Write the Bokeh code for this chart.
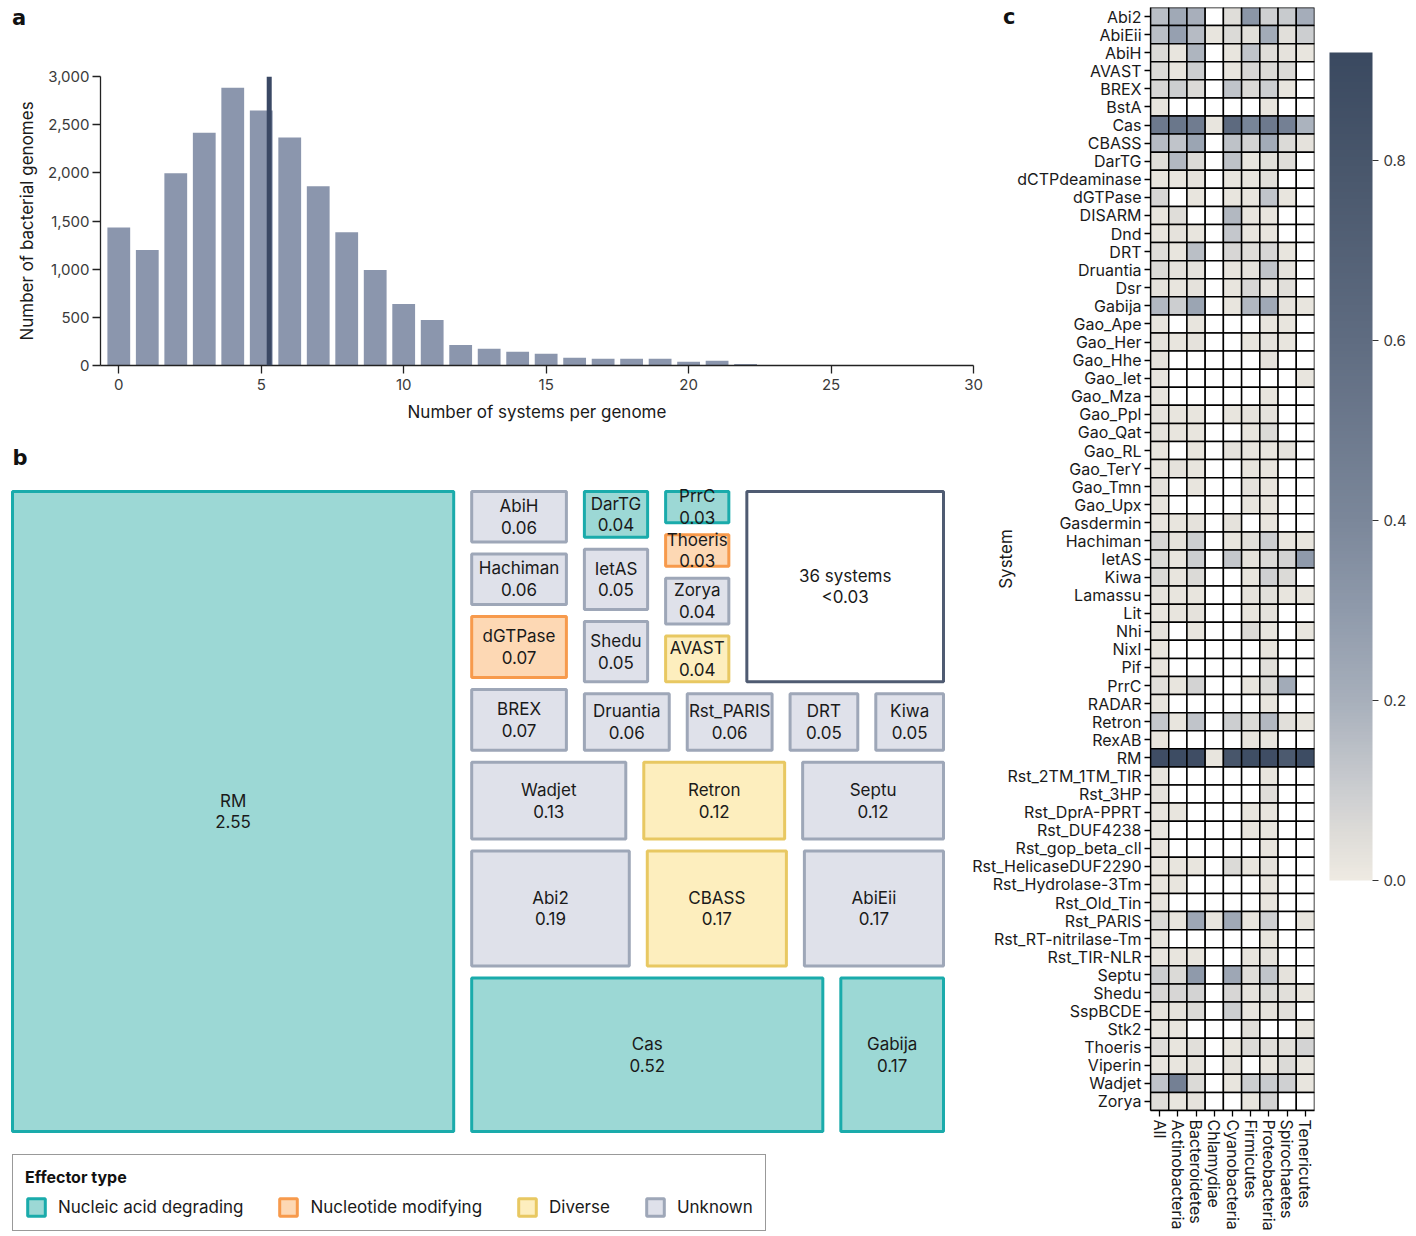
import numpy as np
from bokeh.plotting import figure
from bokeh.models import (ColumnDataSource, Range1d, FactorRange, FixedTicker, NumeralTickFormatter,
                          LinearColorMapper, ColorBar, Label, Legend, LegendItem, Span, Div)
from bokeh.layouts import row, column
from bokeh.core.properties import value
from bokeh.embed import file_html
from bokeh.resources import INLINE

FONT = "Inter"
TXT = "#1a1a1a"
N = float("nan")

# ---------------- panel a data ----------------
hist_systems = list(range(23))
hist_genomes = [1433, 1198, 1996, 2417, 2883, 2648, 2368, 1861, 1384, 991, 639, 473,
                214, 173, 142, 121, 80, 69, 69, 69, 40, 50, 15]
mean_systems = 5.28
hist_xticks = [0, 5, 10, 15, 20, 25, 30]
hist_yticks = [0, 500, 1000, 1500, 2000, 2500, 3000]

# ---------------- panel b data ----------------
tm_names = ["RM", "Cas", "Abi2", "CBASS", "AbiEii", "Gabija", "Wadjet", "Retron", "Septu",
            "dGTPase", "BREX", "AbiH", "Hachiman", "Druantia", "Rst_PARIS", "IetAS", "Shedu",
            "DRT", "Kiwa", "DarTG", "Zorya", "AVAST", "PrrC", "Thoeris", "36 systems"]
tm_values = [2.55, 0.52, 0.19, 0.17, 0.17, 0.17, 0.13, 0.12, 0.12,
             0.07, 0.07, 0.06, 0.06, 0.06, 0.06, 0.05, 0.05,
             0.05, 0.05, 0.04, 0.04, 0.04, 0.03, 0.03, 0.37]
tm_types = ["Nucleic acid degrading", "Nucleic acid degrading", "Unknown", "Diverse", "Unknown",
            "Nucleic acid degrading", "Unknown", "Diverse", "Unknown",
            "Nucleotide modifying", "Unknown", "Unknown", "Unknown", "Unknown", "Unknown",
            "Unknown", "Unknown", "Unknown", "Unknown", "Nucleic acid degrading", "Unknown",
            "Diverse", "Nucleic acid degrading", "Nucleotide modifying", "Other"]
effector_types = ["Nucleic acid degrading", "Nucleotide modifying", "Diverse", "Unknown"]

# nesting of the slice-and-dice treemap (h = side by side, v = stacked)
tm_tree = ("h", ["RM",
                 ("v", [("h", [("v", ["AbiH", "Hachiman", "dGTPase", "BREX"]),
                               ("v", [("h", [("v", ["DarTG", "IetAS", "Shedu"]),
                                             ("v", ["PrrC", "Thoeris", "Zorya", "AVAST"]),
                                             "36 systems"]),
                                      ("h", ["Druantia", "Rst_PARIS", "DRT", "Kiwa"])])]),
                        ("h", ["Wadjet", "Retron", "Septu"]),
                        ("h", ["Abi2", "CBASS", "AbiEii"]),
                        ("h", ["Cas", "Gabija"])])])

# ---------------- panel c data ----------------
systems = ["Abi2", "AbiEii", "AbiH", "AVAST", "BREX", "BstA", "Cas", "CBASS", "DarTG",
           "dCTPdeaminase", "dGTPase", "DISARM", "Dnd", "DRT", "Druantia", "Dsr", "Gabija",
           "Gao_Ape", "Gao_Her", "Gao_Hhe", "Gao_Iet", "Gao_Mza", "Gao_Ppl", "Gao_Qat",
           "Gao_RL", "Gao_TerY", "Gao_Tmn", "Gao_Upx", "Gasdermin", "Hachiman", "IetAS",
           "Kiwa", "Lamassu", "Lit", "Nhi", "NixI", "Pif", "PrrC", "RADAR", "Retron",
           "RexAB", "RM", "Rst_2TM_1TM_TIR", "Rst_3HP", "Rst_DprA-PPRT", "Rst_DUF4238",
           "Rst_gop_beta_cll", "Rst_HelicaseDUF2290", "Rst_Hydrolase-3Tm", "Rst_Old_Tin",
           "Rst_PARIS", "Rst_RT-nitrilase-Tm", "Rst_TIR-NLR", "Septu", "Shedu", "SspBCDE",
           "Stk2", "Thoeris", "Viperin", "Wadjet", "Zorya"]
phyla = ["All", "Actinobacteria", "Bacteroidetes", "Chlamydiae", "Cyanobacteria",
         "Firmicutes", "Proteobacteria", "Spirochaetes", "Tenericutes"]

frac_all = [.15, .15, .06, .06, .07, .02, .50, .16, .05, .02,
            .07, .02, .02, .05, .06, .03, .17, .02, .03, .03,
            .02, .02, .03, .03, .02, .02, .03, .02, .02, .07,
            .06, .06, .03, .02, .03, .02, .02, .04, .02, .12,
            .02, .88, .02, .03, .02, .02, .02, .02, .02, .02,
            .06, .02, .02, .10, .07, .03, .02, .05, .02, .13,
            .05]
frac_actino = [.23, .27, .02, .02, .10, N, .52, .13, .17, .02,
               N, .05, .03, .02, .03, .02, .10, N, .02, N,
               N, N, .02, .02, N, .03, N, N, .02, .03,
               .02, .02, .02, .02, N, N, N, .02, N, .02,
               N, .89, N, N, .02, N, N, .02, .02, N,
               .02, N, .02, .06, .07, .03, .02, .02, .02, .45,
               .02]
frac_bactero = [.20, .16, .18, .10, .06, N, .48, .25, .06, .03,
                .02, N, .02, .15, .03, .03, .25, .02, .03, N,
                N, N, .02, .02, .02, .02, .02, N, .03, .10,
                .10, .06, .02, .03, .02, N, N, .08, N, .13,
                N, .88, N, N, N, N, N, .02, N, N,
                .24, N, .02, .30, .08, .06, N, .04, .03, .06,
                .03]
frac_chlamy = [N, .02, N, N, N, N, .02, N, N, N,
               N, N, N, N, N, N, N, N, N, N,
               N, N, N, N, N, N, N, N, N, N,
               N, N, N, N, N, N, N, N, N, N,
               N, .02, N, N, N, N, N, N, N, N,
               .02, N, N, N, N, N, N, N, N, N,
               N]
frac_cyano = [.05, .06, .02, .02, .13, N, .62, .14, .14, .02,
              .02, .17, .12, .07, .02, .02, .02, N, N, N,
              N, N, .02, N, .03, N, N, N, .03, .02,
              .12, N, N, N, N, N, N, N, N, .10,
              N, .80, N, N, N, N, N, .06, N, N,
              .23, N, N, .24, .07, .10, N, .02, .03, .02,
              N]
frac_firmi = [.32, .04, .13, .07, .06, N, .42, .08, .02, .02,
              .02, .02, .02, .05, .03, .07, .17, N, .02, N,
              N, N, .03, .02, .02, .02, .03, .02, N, .04,
              .03, .02, .03, .02, .06, N, N, .02, N, .06,
              .02, .87, N, N, .02, .02, N, .02, N, N,
              .02, N, .02, .05, .03, .02, .04, .06, N, .10,
              .02]
frac_proteo = [.09, .22, .05, .06, .10, .02, .50, .22, .04, .04,
               .13, .02, .02, .07, .13, .03, .23, .02, .03, .03,
               N, .02, .03, .06, .02, .02, .02, .02, .02, .10,
               .06, .09, .04, .03, .02, .02, .04, .06, .02, .17,
               .02, .88, .02, .05, .02, .02, .02, .03, .02, .02,
               .09, .02, .03, .13, .06, .03, N, .05, .02, .11,
               .08]
frac_spiro = [.11, .04, .03, .06, .02, N, .45, .06, .05, N,
              .02, N, N, .02, .03, .04, .03, .02, .02, N,
              N, N, N, N, .03, N, N, N, N, .02,
              .08, .06, .02, N, N, N, N, .22, N, .04,
              N, .76, N, N, N, N, N, N, N, N,
              N, N, N, .03, .04, .04, N, .04, .06, .09,
              N]
frac_teneri = [.21, .10, .02, N, N, N, .19, .03, N, N,
               N, N, N, N, N, N, .02, N, N, N,
               .02, N, N, N, N, N, N, N, N, .02,
               .30, N, .02, N, .02, N, N, N, N, .02,
               N, .89, N, N, N, N, N, N, N, N,
               .02, N, N, N, .02, N, .02, .08, .02, .02,
               N]
frac_columns = [frac_all, frac_actino, frac_bactero, frac_chlamy, frac_cyano,
                frac_firmi, frac_proteo, frac_spiro, frac_teneri]
cbar_ticks = [0.0, 0.2, 0.4, 0.6, 0.8]
for col in frac_columns:
    assert len(col) == len(systems)


def style_axis(ax, size="15px"):
    ax.major_label_text_font = FONT
    ax.major_label_text_font_size = size
    ax.major_label_text_color = "#3a3a3a"
    ax.axis_label_text_font = FONT
    ax.axis_label_text_font_style = "normal"
    ax.axis_label_text_font_size = "17px"
    ax.axis_label_text_color = TXT
    ax.axis_line_color = "#222222"
    ax.axis_line_width = 1.3
    ax.major_tick_line_color = "#222222"
    ax.major_tick_line_width = 1.3
    ax.minor_tick_line_color = None
    ax.major_tick_in = 0


LETTER_FONT = "DejaVu Sans"
LETTER_STYLES = {"font-family": LETTER_FONT, "font-weight": "bold",
                 "font-size": "21px", "line-height": "24px", "color": "#111111"}

# ================= panel a =================
letter_a = Div(text="a", width=30, height=24, margin=(6, 0, 0, 12), styles=LETTER_STYLES)
pa = figure(width=990, height=415, output_backend="svg", toolbar_location=None,
            x_range=Range1d(-0.642, 30), y_range=Range1d(0, 3000),
            min_border_left=100, min_border_right=17, min_border_top=46, min_border_bottom=80)
pa.vbar(x=hist_systems, top=hist_genomes, width=0.8, bottom=0,
        fill_color="#8b96ad", line_color=None)
pa.add_layout(Span(location=mean_systems, dimension="height",
                   line_color="#3a4864", line_width=5))
pa.xgrid.visible = False
pa.ygrid.visible = False
pa.outline_line_color = None
pa.xaxis.ticker = FixedTicker(ticks=hist_xticks)
pa.yaxis.ticker = FixedTicker(ticks=hist_yticks)
pa.yaxis.formatter = NumeralTickFormatter(format="0,0")
for ax in (pa.xaxis[0], pa.yaxis[0]):
    style_axis(ax)
    ax.major_tick_out = 8
pa.xaxis.axis_label = "Number of systems per genome"
pa.yaxis.axis_label = "Number of bacterial genomes"
pa.xaxis.major_label_standoff = 5
pa.yaxis.major_label_standoff = 3
pa.xaxis.axis_label_standoff = 9
pa.yaxis.axis_label_standoff = 8

# ================= panel b =================
val_of = dict(zip(tm_names, tm_values))


def node_value(n):
    if isinstance(n, str):
        return val_of[n]
    return sum(node_value(c) for c in n[1])


def place(n, x0, y0, x1, y1, out):
    if isinstance(n, str):
        out[n] = (x0, y0, x1, y1)
        return
    orient, kids = n
    total = node_value(n)
    pos = x0 if orient == "h" else y0
    for k in kids:
        frac = node_value(k) / total
        if orient == "h":
            w = (x1 - x0) * frac
            place(k, pos, y0, pos + w, y1, out)
            pos += w
        else:
            h = (y1 - y0) * frac
            place(k, x0, pos, x1, pos + h, out)
            pos += h


TM_W, TM_H = 949, 652
GAP_X, GAP_Y = 18, 12
slots = {}
place(tm_tree, 0, 0, TM_W, TM_H, slots)

PB_W, PB_H = 966, 791
pb = figure(width=PB_W, height=PB_H, output_backend="svg", toolbar_location=None,
            x_range=Range1d(-12, PB_W - 12), y_range=Range1d(PB_H - 46, -46), min_border=0,
            x_axis_location=None, y_axis_location=None)
pb.grid.visible = False
pb.outline_line_color = None

fills = {"Nucleic acid degrading": "#9cd8d5", "Nucleotide modifying": "#fdd8b4",
         "Diverse": "#fdeebe", "Unknown": "#dfe1ea", "Other": "#ffffff"}
lines = {"Nucleic acid degrading": "#1aabab", "Nucleotide modifying": "#f79a4c",
         "Diverse": "#e8c862", "Unknown": "#9ea7b8", "Other": "#4f5b72"}

renderers = {}
for t in effector_types + ["Other"]:
    idx = [i for i, tt in enumerate(tm_types) if tt == t]
    src = ColumnDataSource(dict(
        left=[slots[tm_names[i]][0] for i in idx],
        right=[slots[tm_names[i]][2] - GAP_X for i in idx],
        top=[slots[tm_names[i]][1] for i in idx],
        bottom=[slots[tm_names[i]][3] - GAP_Y for i in idx]))
    renderers[t] = pb.quad(left="left", right="right", top="top", bottom="bottom", source=src,
                           fill_color=fills[t], line_color=lines[t], line_width=3)

lab_src = ColumnDataSource(dict(
    x=[(slots[n][0] + slots[n][2] - GAP_X) / 2 for n in tm_names],
    y=[(slots[n][1] + slots[n][3] - GAP_Y) / 2 for n in tm_names],
    text=[n + "\n" + ("<0.03" if n == "36 systems" else f"{v:.2f}")
          for n, v in zip(tm_names, tm_values)]))
pb.text(x="x", y="y", text="text", source=lab_src, text_align="center",
        text_baseline="middle", text_font=value(FONT), text_font_size="17px",
        text_color=TXT, text_line_height=1.08)

legend = Legend(items=[LegendItem(label=t, renderers=[renderers[t]]) for t in effector_types],
                orientation="horizontal", location=(12, 5), title="Effector type",
                title_text_font=FONT, title_text_font_style="bold", title_text_font_size="16px",
                title_text_color="#111111", title_standoff=9,
                label_text_font=FONT, label_text_font_size="17px", label_text_color=TXT,
                glyph_width=22, glyph_height=22, label_standoff=11, spacing=34,
                padding=12, margin=0, border_line_color="#333333", border_line_width=1.2,
                background_fill_color="white", background_fill_alpha=1)
pb.add_layout(legend)
pb.add_layout(Label(x=12, y=PB_H - 12, x_units="screen", y_units="screen", text="b",
                    text_font=LETTER_FONT, text_font_style="bold", text_font_size="21px",
                    text_color="#111111", text_align="left", text_baseline="middle"))

# ================= panel c =================
anchors = [(0.00, "#eeeae2"), (0.05, "#dedcd8"), (0.10, "#cbcdd0"), (0.20, "#a7afbb"),
           (0.30, "#8f9aab"), (0.40, "#7b879a"), (0.60, "#5f6c81"), (0.80, "#48566b"),
           (0.92, "#3a4960")]
a_pos = np.array([a[0] for a in anchors])
a_rgb = np.array([[int(c[1][i:i + 2], 16) for i in (1, 3, 5)] for c in anchors], float)
grid = np.linspace(0, 0.92, 256)
palette = ["#%02x%02x%02x" % tuple(int(round(np.interp(g, a_pos, a_rgb[:, k]))) for k in range(3))
           for g in grid]
mapper = LinearColorMapper(palette=palette, low=0.0, high=0.92, nan_color="white")

hx, hy, hv = [], [], []
for ph, col in zip(phyla, frac_columns):
    for s, v in zip(systems, col):
        hx.append(ph)
        hy.append(s)
        hv.append(v)
heat_src = ColumnDataSource(dict(phylum=hx, system=hy, frac=hv))

pc = figure(frame_width=164, frame_height=1103, output_backend="svg", toolbar_location=None,
            x_range=FactorRange(factors=phyla), y_range=FactorRange(factors=systems[::-1]),
            min_border_left=192, min_border_right=102, min_border_top=7, min_border_bottom=126)
pc.rect(x="phylum", y="system", width=1, height=1, source=heat_src,
        fill_color={"field": "frac", "transform": mapper}, line_color="black", line_width=1.5)
pc.grid.visible = False
pc.outline_line_color = None
pc.border_fill_color = None
pc.background_fill_color = None
for ax in (pc.xaxis[0], pc.yaxis[0]):
    style_axis(ax, "16px")
    ax.major_label_text_color = TXT
    ax.major_tick_out = 6
    ax.axis_line_color = "black"
    ax.major_tick_line_color = "black"
    ax.major_label_standoff = 3
pc.xaxis.major_label_orientation = "vertical"
pc.yaxis.axis_label = "System"
pc.yaxis.axis_label_standoff = -47

cbar = ColorBar(color_mapper=mapper, ticker=FixedTicker(ticks=cbar_ticks),
                formatter=NumeralTickFormatter(format="0.0"), width=43, height=828,
                location=(15, 230), padding=0, margin=0, major_tick_in=0, major_tick_out=6,
                major_tick_line_color="#333333", label_standoff=5,
                major_label_text_font=FONT, major_label_text_font_size="15px",
                major_label_text_color="#3a3a3a", bar_line_color=None,
                border_line_color=None, background_fill_color=None)
pc.add_layout(cbar, "right")
pc.margin = (0, 0, 0, -65)

letter_c = Div(text="c", width=20, height=30, margin=(5, 0, 0, 13), styles=LETTER_STYLES)

layout = row(column(letter_a, pa, row(pb)), letter_c, pc)
open("out.html", "w").write(file_html(layout, INLINE))
